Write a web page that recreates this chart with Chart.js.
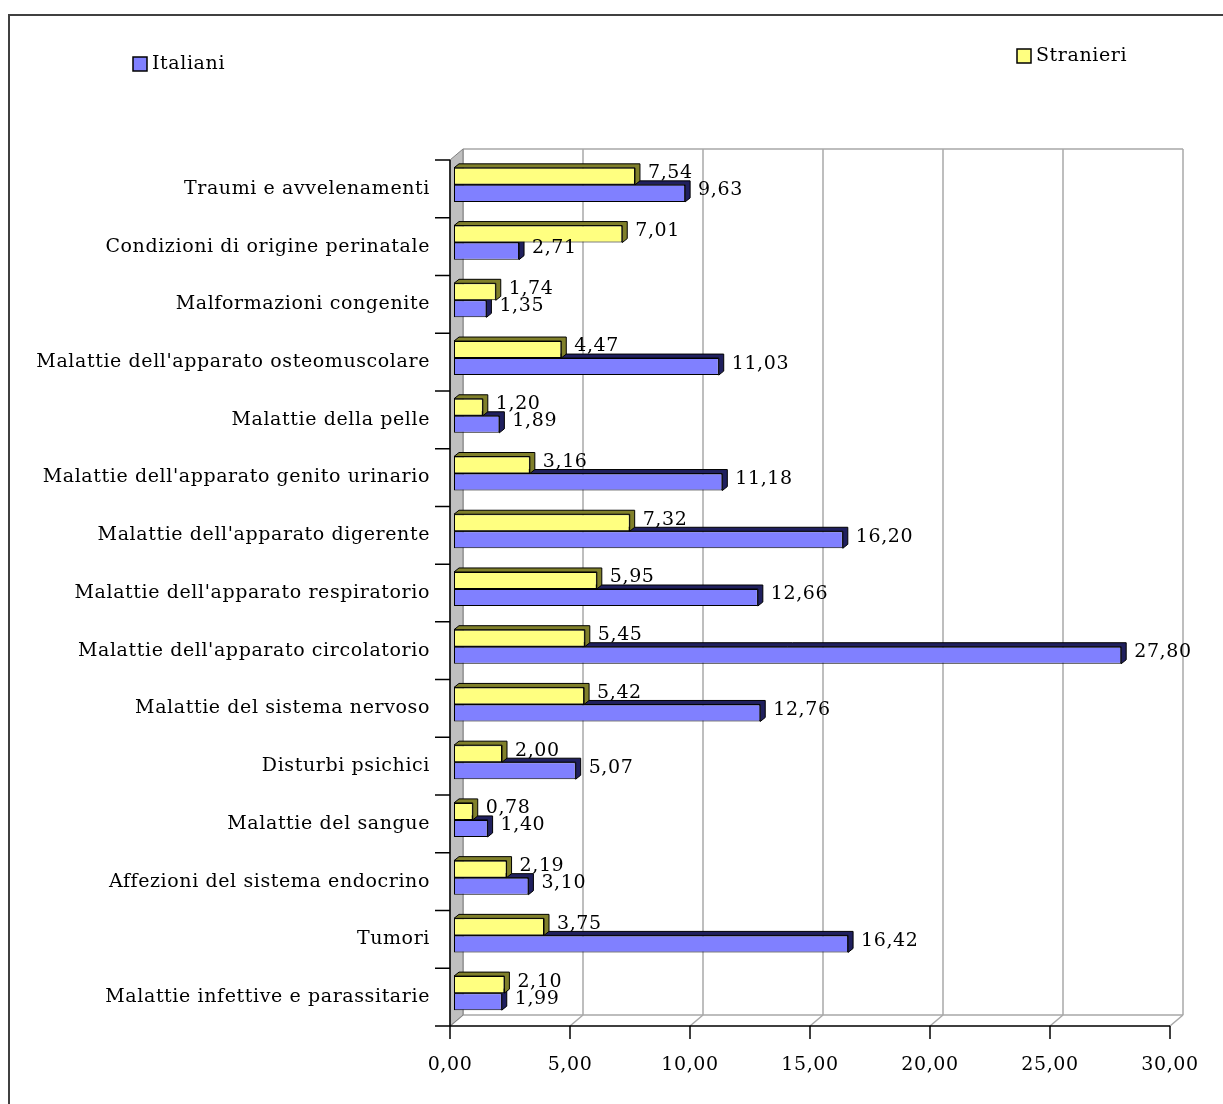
<!DOCTYPE html>
<html>
<head>
<meta charset="utf-8">
<script src="https://cdn.jsdelivr.net/npm/chart.js@4/dist/chart.umd.min.js"></script>
<style>
  html, body { margin: 0; padding: 0; background: #fff; }
  canvas { display: block; }
</style>
</head>
<body>
<canvas id="chart" width="1223" height="1104"></canvas>
<script>
const categories = [
    "Traumi e avvelenamenti",
    "Condizioni di origine perinatale",
    "Malformazioni congenite",
    "Malattie dell'apparato osteomuscolare",
    "Malattie della pelle",
    "Malattie dell'apparato genito urinario",
    "Malattie dell'apparato digerente",
    "Malattie dell'apparato respiratorio",
    "Malattie dell'apparato circolatorio",
    "Malattie del sistema nervoso",
    "Disturbi psichici",
    "Malattie del sangue",
    "Affezioni del sistema endocrino",
    "Tumori",
    "Malattie infettive e parassitarie"
];

const stranieri = [7.54,7.01,1.74,4.47,1.20,3.16,7.32,5.95,5.45,5.42,2.00,0.78,2.19,3.75,2.10];
const italiani  = [9.63,2.71,1.35,11.03,1.89,11.18,16.20,12.66,27.80,12.76,5.07,1.40,3.10,16.42,1.99];

const xMin = 0;
const xMax = 30;
const xStep = 5;

const FONT = {family:"DejaVu Serif", size:19};
const fontStr = FONT.size + "px '" + FONT.family + "'";
const SPACING = "0.6px";

const fmt = v => v.toFixed(2).replace(".", ",");

// face colour / shaded colour for each series
const shades = {
    Stranieri:{face:"#ffff80", dark:"#80802a"},
    Italiani:{face:"#8080ff", dark:"#20205e"}
};

// bar depth (front face -> back)
const BD = {x:5, y:4};
// wall depth and offset of the front plane from the bar plane
const WD = {x:13, y:11};
const FO = {x:-4, y:4};

const wallsPlugin = {
    id:"walls",
    beforeDraw(chart){
        // wide letter spacing for all text on the canvas
        chart.ctx.letterSpacing = SPACING;
    },
    beforeDatasetsDraw(chart){
        const ctx = chart.ctx;
        const xs = chart.scales.x;
        const area = chart.chartArea;

        const fx = v => xs.getPixelForValue(v) + FO.x;
        const fTop = area.top + FO.y;
        const fBot = area.bottom + FO.y;
        const left = fx(xMin);
        const right = fx(xMax);

        ctx.save();

        // outer frame
        ctx.strokeStyle = "#404040";
        ctx.lineWidth = 2;
        ctx.strokeRect(9, 15, 1400, 1300);

        // back wall + gridlines
        ctx.strokeStyle = "#a8a8a8";
        ctx.lineWidth = 1.5;
        for(let v=xMin; v<=xMax; v+=xStep){
            const x = fx(v) + WD.x;
            ctx.beginPath();
            ctx.moveTo(x, fTop - WD.y);
            ctx.lineTo(x, fBot - WD.y);
            ctx.stroke();
            // floor diagonals
            ctx.beginPath();
            ctx.moveTo(fx(v), fBot);
            ctx.lineTo(x, fBot - WD.y);
            ctx.stroke();
        }
        ctx.beginPath();
        ctx.moveTo(left + WD.x, fTop - WD.y);
        ctx.lineTo(right + WD.x, fTop - WD.y);
        ctx.moveTo(left + WD.x, fBot - WD.y);
        ctx.lineTo(right + WD.x, fBot - WD.y);
        ctx.stroke();

        // left side wall
        ctx.fillStyle = "#c0c0c0";
        ctx.strokeStyle = "#808080";
        ctx.lineWidth = 1;
        ctx.beginPath();
        ctx.moveTo(left, fTop);
        ctx.lineTo(left + WD.x, fTop - WD.y);
        ctx.lineTo(left + WD.x, fBot - WD.y);
        ctx.lineTo(left, fBot);
        ctx.closePath();
        ctx.fill();
        ctx.stroke();

        // category axis
        ctx.strokeStyle = "#000";
        ctx.lineWidth = 1.5;
        ctx.beginPath();
        ctx.moveTo(left, fTop);
        ctx.lineTo(left, fBot + 13);
        const n = categories.length;
        for(let i=0; i<=n; i++){
            const y = fTop + (fBot - fTop) * i / n;
            ctx.moveTo(left - 15, y);
            ctx.lineTo(left, y);
        }
        // value axis
        ctx.moveTo(left, fBot);
        ctx.lineTo(right, fBot);
        for(let v=xMin; v<=xMax; v+=xStep){
            ctx.moveTo(fx(v), fBot);
            ctx.lineTo(fx(v), fBot + 13);
        }
        ctx.stroke();

        // bar tops and sides, lower series first
        for(let d=chart.data.datasets.length-1; d>=0; d--){
            const ds = chart.data.datasets[d];
            const dark = shades[ds.label].dark;
            chart.getDatasetMeta(d).data.forEach(el=>{
                const p = el.getProps(["x","y","base","height"], true);
                const t = p.y - p.height/2;
                const b = p.y + p.height/2;
                ctx.fillStyle = dark;
                ctx.strokeStyle = "#000";
                ctx.lineWidth = 1;
                ctx.beginPath();
                ctx.moveTo(p.base, t);
                ctx.lineTo(p.base + BD.x, t - BD.y);
                ctx.lineTo(p.x + BD.x, t - BD.y);
                ctx.lineTo(p.x + BD.x, b - BD.y);
                ctx.lineTo(p.x, b);
                ctx.lineTo(p.x, t);
                ctx.closePath();
                ctx.fill();
                ctx.stroke();
            });
        }
        ctx.restore();
    },
    afterDatasetsDraw(chart){
        const ctx = chart.ctx;
        ctx.save();
        ctx.font = fontStr;
        ctx.letterSpacing = SPACING;
        ctx.fillStyle = "#000";
        ctx.textBaseline = "middle";
        ctx.textAlign = "left";
        chart.data.datasets.forEach((ds, d)=>{
            chart.getDatasetMeta(d).data.forEach((el, i)=>{
                const p = el.getProps(["x","y"], true);
                ctx.fillText(fmt(ds.data[i]), p.x + BD.x + 8, p.y - BD.y + 1);
            });
        });

        // legend
        const items = [
            {label:"Italiani", x:133, y:57},
            {label:"Stranieri", x:1017, y:49}
        ];
        items.forEach(it=>{
            ctx.fillStyle = shades[it.label].face;
            ctx.fillRect(it.x, it.y, 14, 14);
            ctx.strokeStyle = "#000";
            ctx.lineWidth = 1.5;
            ctx.strokeRect(it.x, it.y, 14, 14);
            ctx.fillStyle = "#000";
            ctx.fillText(it.label, it.x + 19, it.y + 7);
        });
        ctx.restore();
    }
};

const chart = new Chart(
    document.getElementById("chart"),
    {
        type:"bar",
        data:{
            labels:categories,
            datasets:[
                {
                    label:"Stranieri",
                    data:stranieri,
                    backgroundColor:shades.Stranieri.face,
                    borderColor:"#000",
                    borderWidth:1,
                    borderSkipped:false
                },
                {
                    label:"Italiani",
                    data:italiani,
                    backgroundColor:shades.Italiani.face,
                    borderColor:"#000",
                    borderWidth:1,
                    borderSkipped:false
                }
            ]
        },
        options:{
            indexAxis:"y",
            responsive:false,
            animation:false,
            devicePixelRatio:1,
            categoryPercentage:0.59,
            barPercentage:1,
            layout:{padding:{top:156, right:49, left:0, bottom:0}},
            plugins:{
                legend:{display:false},
                tooltip:{enabled:false}
            },
            scales:{
                x:{
                    min:xMin,
                    max:xMax,
                    ticks:{
                        stepSize:xStep,
                        callback:v => fmt(v),
                        font:FONT,
                        color:"#000",
                        labelOffset:-4,
                        padding:32,
                        maxRotation:0
                    },
                    grid:{display:false, drawTicks:false},
                    border:{display:false},
                    afterFit:s => {
                        s.height = 82;
                        s.paddingLeft = 0;
                        s.paddingRight = 0;
                    }
                },
                y:{
                    ticks:{
                        font:FONT,
                        color:"#000",
                        labelOffset:4,
                        padding:24,
                        autoSkip:false
                    },
                    grid:{display:false, drawTicks:false},
                    border:{display:false},
                    afterFit:s => { s.width = 454; }
                }
            }
        },
        plugins:[wallsPlugin]
    }
);
</script>
</body>
</html>
